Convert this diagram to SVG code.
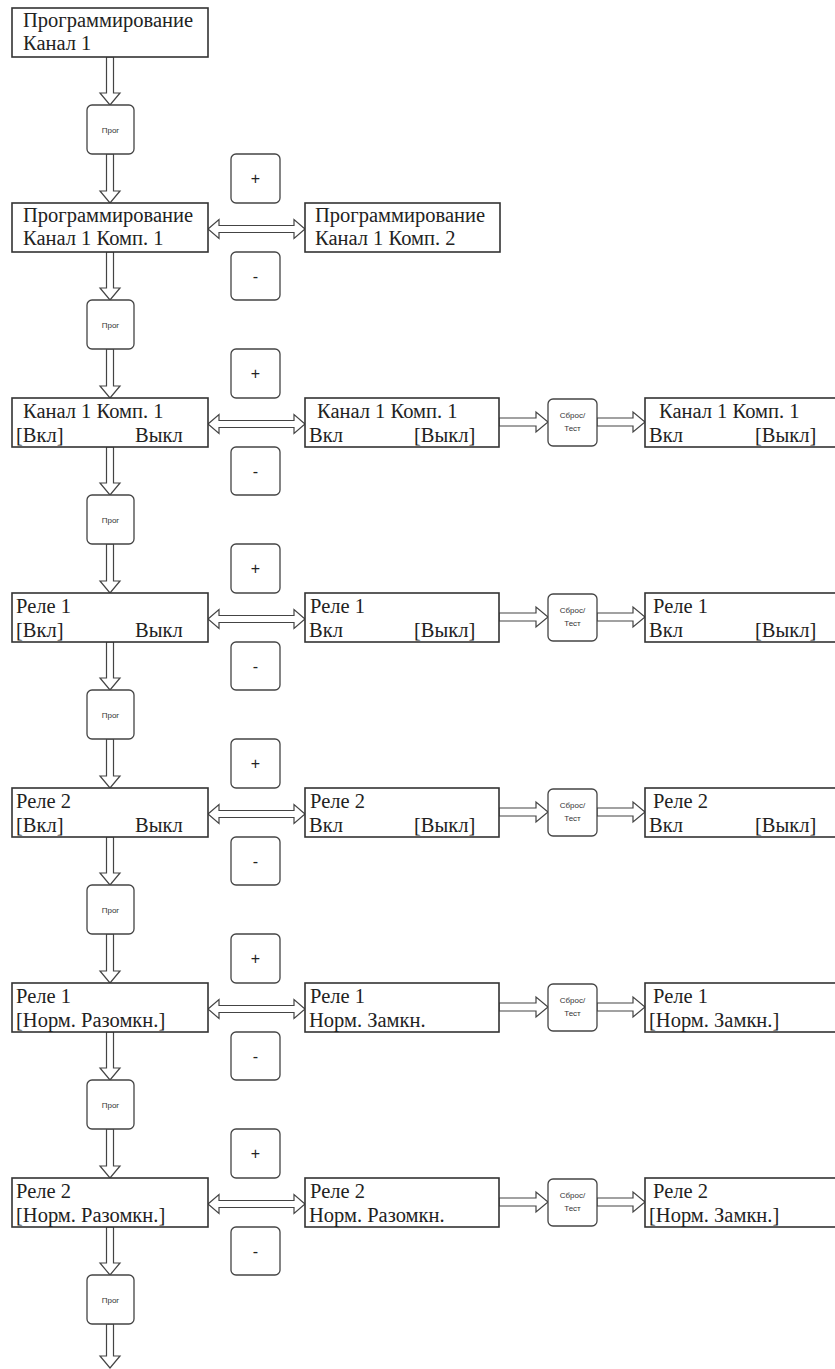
<svg xmlns="http://www.w3.org/2000/svg" width="835" height="1369" viewBox="0 0 835 1369">
<style>
.box{fill:#fff;stroke:#333;stroke-width:1.6}
.btn{fill:#fff;stroke:#444;stroke-width:1.3}
.arr{fill:#fff;stroke:#444;stroke-width:1.2;stroke-linejoin:miter}
.t{font-family:'Liberation Serif','Times New Roman',serif;font-size:20.5px;fill:#222}
.s{font-family:'Liberation Sans',Arial,sans-serif;font-size:8px;fill:#333;text-anchor:middle}
.pm{font-family:'Liberation Sans',Arial,sans-serif;font-size:16px;fill:#222;text-anchor:middle}
</style>
<rect width="835" height="1369" fill="#fff"/>

<g id="connectors">
<polygon class="arr" points="106.5,57 113.5,57 113.5,93 120,93 110,105 100,93 106.5,93"/>
<polygon class="arr" points="106.5,154 113.5,154 113.5,191 120,191 110,203 100,191 106.5,191"/>
<polygon class="arr" points="106.5,252 113.5,252 113.5,288 120,288 110,300 100,288 106.5,288"/>
<polygon class="arr" points="106.5,349 113.5,349 113.5,386 120,386 110,398 100,386 106.5,386"/>
<polygon class="arr" points="106.5,447 113.5,447 113.5,483 120,483 110,495 100,483 106.5,483"/>
<polygon class="arr" points="106.5,544 113.5,544 113.5,581 120,581 110,593 100,581 106.5,581"/>
<polygon class="arr" points="106.5,642 113.5,642 113.5,678 120,678 110,690 100,678 106.5,678"/>
<polygon class="arr" points="106.5,739 113.5,739 113.5,776 120,776 110,788 100,776 106.5,776"/>
<polygon class="arr" points="106.5,837 113.5,837 113.5,873 120,873 110,885 100,873 106.5,873"/>
<polygon class="arr" points="106.5,934 113.5,934 113.5,971 120,971 110,983 100,971 106.5,971"/>
<polygon class="arr" points="106.5,1032 113.5,1032 113.5,1068 120,1068 110,1080 100,1068 106.5,1068"/>
<polygon class="arr" points="106.5,1129 113.5,1129 113.5,1166 120,1166 110,1178 100,1166 106.5,1166"/>
<polygon class="arr" points="106.5,1227 113.5,1227 113.5,1263 120,1263 110,1275 100,1263 106.5,1263"/>
<polygon class="arr" points="106.5,1324 113.5,1324 113.5,1356 120,1356 110,1368 100,1356 106.5,1356"/>

<polygon class="arr" points="208,229 219,219.5 219,225.5 294,225.5 294,219.5 305,229 294,238.5 294,232.5 219,232.5 219,238.5"/>
<polygon class="arr" points="208,424 219,414.5 219,420.5 294,420.5 294,414.5 305,424 294,433.5 294,427.5 219,427.5 219,433.5"/>
<polygon class="arr" points="208,619 219,609.5 219,615.5 294,615.5 294,609.5 305,619 294,628.5 294,622.5 219,622.5 219,628.5"/>
<polygon class="arr" points="208,814 219,804.5 219,810.5 294,810.5 294,804.5 305,814 294,823.5 294,817.5 219,817.5 219,823.5"/>
<polygon class="arr" points="208,1009 219,999.5 219,1005.5 294,1005.5 294,999.5 305,1009 294,1018.5 294,1012.5 219,1012.5 219,1018.5"/>
<polygon class="arr" points="208,1204 219,1194.5 219,1200.5 294,1200.5 294,1194.5 305,1204 294,1213.5 294,1207.5 219,1207.5 219,1213.5"/>

<polygon class="arr" points="499,418 536,418 536,412 548,422 536,432 536,426 499,426"/>
<polygon class="arr" points="597,418 633,418 633,412 645,422 633,432 633,426 597,426"/>
<polygon class="arr" points="499,613 536,613 536,607 548,617 536,627 536,621 499,621"/>
<polygon class="arr" points="597,613 633,613 633,607 645,617 633,627 633,621 597,621"/>
<polygon class="arr" points="499,808 536,808 536,802 548,812 536,822 536,816 499,816"/>
<polygon class="arr" points="597,808 633,808 633,802 645,812 633,822 633,816 597,816"/>
<polygon class="arr" points="499,1003 536,1003 536,997 548,1007 536,1017 536,1011 499,1011"/>
<polygon class="arr" points="597,1003 633,1003 633,997 645,1007 633,1017 633,1011 597,1011"/>
<polygon class="arr" points="499,1198 536,1198 536,1192 548,1202 536,1212 536,1206 499,1206"/>
<polygon class="arr" points="597,1198 633,1198 633,1192 645,1202 633,1212 633,1206 597,1206"/>
</g>

<g id="n-prog-ch1"><rect class="box" x="12" y="8" width="196" height="49"/><text class="t" x="23" y="27">Программирование</text><text class="t" x="23" y="50">Канал 1</text></g>
<g id="b-prog0"><rect class="btn" x="87" y="105" width="47" height="49" rx="5"/><text class="s" x="110.5" y="133">Прог</text></g>

<g id="n-prog-c1"><rect class="box" x="12" y="203" width="196" height="49"/><text class="t" x="23" y="222">Программирование</text><text class="t" x="23" y="245">Канал 1 Комп. 1</text></g>
<g id="n-prog-c2"><rect class="box" x="305" y="203" width="195" height="49"/><text class="t" x="315" y="222">Программирование</text><text class="t" x="315" y="245">Канал 1 Комп. 2</text></g>
<g id="b-plus1"><rect class="btn" x="231" y="154" width="49" height="49" rx="5"/><text class="pm" x="255.5" y="184">+</text></g>
<g id="b-minus1"><rect class="btn" x="231" y="252" width="49" height="48" rx="5"/><text class="pm" x="255.5" y="282">-</text></g>
<g id="b-prog1"><rect class="btn" x="87" y="300" width="47" height="49" rx="5"/><text class="s" x="110.5" y="328">Прог</text></g>

<g id="n-k1-left"><rect class="box" x="12" y="398" width="196" height="49"/><text class="t" x="23" y="418">Канал 1 Комп. 1</text><text class="t" x="16" y="442">[Вкл]</text><text class="t" x="135" y="442">Выкл</text></g>
<g id="n-k1-mid"><rect class="box" x="305" y="398" width="194" height="49"/><text class="t" x="317" y="418">Канал 1 Комп. 1</text><text class="t" x="309" y="442">Вкл</text><text class="t" x="414" y="442">[Выкл]</text></g>
<g id="b-reset2"><rect class="btn" x="548" y="399" width="49" height="47" rx="5"/><text class="s" x="572.5" y="418">Сброс/</text><text class="s" x="572.5" y="431">Тест</text></g>
<g id="n-k1-right"><rect class="box" x="645" y="398" width="200" height="49"/><text class="t" x="659" y="418">Канал 1 Комп. 1</text><text class="t" x="649" y="442">Вкл</text><text class="t" x="755" y="442">[Выкл]</text></g>
<g id="b-plus2"><rect class="btn" x="231" y="349" width="49" height="49" rx="5"/><text class="pm" x="255.5" y="379">+</text></g>
<g id="b-minus2"><rect class="btn" x="231" y="447" width="49" height="48" rx="5"/><text class="pm" x="255.5" y="477">-</text></g>
<g id="b-prog2"><rect class="btn" x="87" y="495" width="47" height="49" rx="5"/><text class="s" x="110.5" y="523">Прог</text></g>

<g id="n-r1-left"><rect class="box" x="12" y="593" width="196" height="49"/><text class="t" x="16" y="613">Реле 1</text><text class="t" x="16" y="637">[Вкл]</text><text class="t" x="135" y="637">Выкл</text></g>
<g id="n-r1-mid"><rect class="box" x="305" y="593" width="194" height="49"/><text class="t" x="310" y="613">Реле 1</text><text class="t" x="309" y="637">Вкл</text><text class="t" x="414" y="637">[Выкл]</text></g>
<g id="b-reset3"><rect class="btn" x="548" y="594" width="49" height="47" rx="5"/><text class="s" x="572.5" y="613">Сброс/</text><text class="s" x="572.5" y="626">Тест</text></g>
<g id="n-r1-right"><rect class="box" x="645" y="593" width="200" height="49"/><text class="t" x="653" y="613">Реле 1</text><text class="t" x="649" y="637">Вкл</text><text class="t" x="755" y="637">[Выкл]</text></g>
<g id="b-plus3"><rect class="btn" x="231" y="544" width="49" height="49" rx="5"/><text class="pm" x="255.5" y="574">+</text></g>
<g id="b-minus3"><rect class="btn" x="231" y="642" width="49" height="48" rx="5"/><text class="pm" x="255.5" y="672">-</text></g>
<g id="b-prog3"><rect class="btn" x="87" y="690" width="47" height="49" rx="5"/><text class="s" x="110.5" y="718">Прог</text></g>

<g id="n-r2-left"><rect class="box" x="12" y="788" width="196" height="49"/><text class="t" x="16" y="808">Реле 2</text><text class="t" x="16" y="832">[Вкл]</text><text class="t" x="135" y="832">Выкл</text></g>
<g id="n-r2-mid"><rect class="box" x="305" y="788" width="194" height="49"/><text class="t" x="310" y="808">Реле 2</text><text class="t" x="309" y="832">Вкл</text><text class="t" x="414" y="832">[Выкл]</text></g>
<g id="b-reset4"><rect class="btn" x="548" y="789" width="49" height="47" rx="5"/><text class="s" x="572.5" y="808">Сброс/</text><text class="s" x="572.5" y="821">Тест</text></g>
<g id="n-r2-right"><rect class="box" x="645" y="788" width="200" height="49"/><text class="t" x="653" y="808">Реле 2</text><text class="t" x="649" y="832">Вкл</text><text class="t" x="755" y="832">[Выкл]</text></g>
<g id="b-plus4"><rect class="btn" x="231" y="739" width="49" height="49" rx="5"/><text class="pm" x="255.5" y="769">+</text></g>
<g id="b-minus4"><rect class="btn" x="231" y="837" width="49" height="48" rx="5"/><text class="pm" x="255.5" y="867">-</text></g>
<g id="b-prog4"><rect class="btn" x="87" y="885" width="47" height="49" rx="5"/><text class="s" x="110.5" y="913">Прог</text></g>

<g id="n-r1n-left"><rect class="box" x="12" y="983" width="196" height="49"/><text class="t" x="16" y="1003">Реле 1</text><text class="t" x="16" y="1027">[Норм. Разомкн.]</text></g>
<g id="n-r1n-mid"><rect class="box" x="305" y="983" width="194" height="49"/><text class="t" x="310" y="1003">Реле 1</text><text class="t" x="309" y="1027">Норм. Замкн.</text></g>
<g id="b-reset5"><rect class="btn" x="548" y="984" width="49" height="47" rx="5"/><text class="s" x="572.5" y="1003">Сброс/</text><text class="s" x="572.5" y="1016">Тест</text></g>
<g id="n-r1n-right"><rect class="box" x="645" y="983" width="200" height="49"/><text class="t" x="653" y="1003">Реле 1</text><text class="t" x="649" y="1027">[Норм. Замкн.]</text></g>
<g id="b-plus5"><rect class="btn" x="231" y="934" width="49" height="49" rx="5"/><text class="pm" x="255.5" y="964">+</text></g>
<g id="b-minus5"><rect class="btn" x="231" y="1032" width="49" height="48" rx="5"/><text class="pm" x="255.5" y="1062">-</text></g>
<g id="b-prog5"><rect class="btn" x="87" y="1080" width="47" height="49" rx="5"/><text class="s" x="110.5" y="1108">Прог</text></g>

<g id="n-r2n-left"><rect class="box" x="12" y="1178" width="196" height="49"/><text class="t" x="16" y="1198">Реле 2</text><text class="t" x="16" y="1222">[Норм. Разомкн.]</text></g>
<g id="n-r2n-mid"><rect class="box" x="305" y="1178" width="194" height="49"/><text class="t" x="310" y="1198">Реле 2</text><text class="t" x="309" y="1222">Норм. Разомкн.</text></g>
<g id="b-reset6"><rect class="btn" x="548" y="1179" width="49" height="47" rx="5"/><text class="s" x="572.5" y="1198">Сброс/</text><text class="s" x="572.5" y="1211">Тест</text></g>
<g id="n-r2n-right"><rect class="box" x="645" y="1178" width="200" height="49"/><text class="t" x="653" y="1198">Реле 2</text><text class="t" x="649" y="1222">[Норм. Замкн.]</text></g>
<g id="b-plus6"><rect class="btn" x="231" y="1129" width="49" height="49" rx="5"/><text class="pm" x="255.5" y="1159">+</text></g>
<g id="b-minus6"><rect class="btn" x="231" y="1227" width="49" height="48" rx="5"/><text class="pm" x="255.5" y="1257">-</text></g>
<g id="b-prog6"><rect class="btn" x="87" y="1275" width="47" height="49" rx="5"/><text class="s" x="110.5" y="1303">Прог</text></g>
</svg>
